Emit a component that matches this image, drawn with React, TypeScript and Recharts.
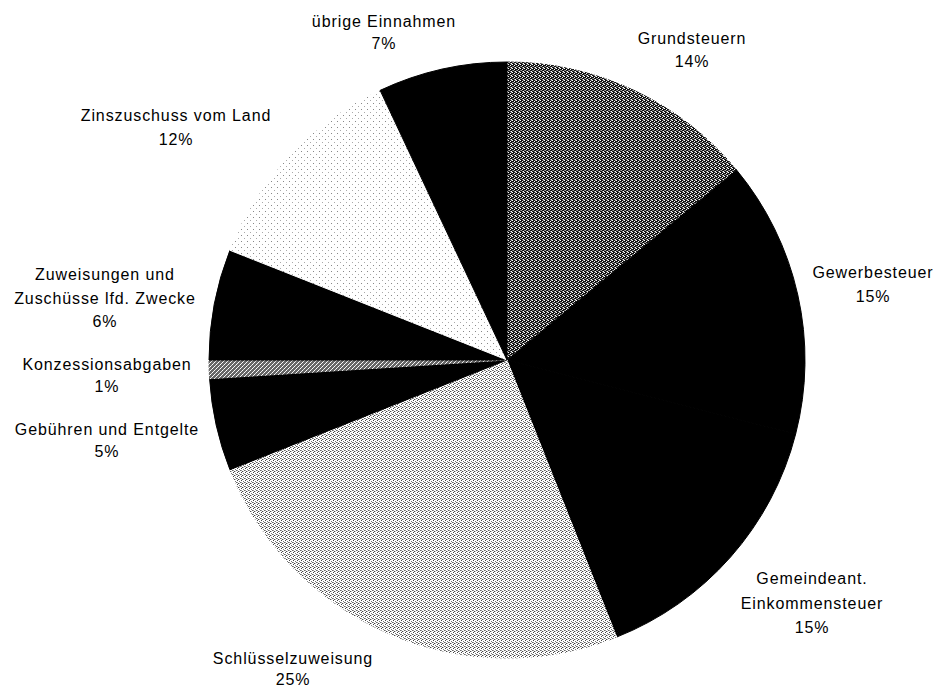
import { PieChart, Pie, Cell } from 'recharts'

// clockwise from 12 o'clock
const categories = [
  'Grundsteuern',
  'Gewerbesteuer',
  'Gemeindeant. Einkommensteuer',
  'Schlüsselzuweisung',
  'Gebühren und Entgelte',
  'Konzessionsabgaben',
  'Zuweisungen und Zuschüsse lfd. Zwecke',
  'Zinszuschuss vom Land',
  'übrige Einnahmen',
]
const shares = [14, 15, 15, 25, 5, 1, 6, 12, 7]
const labelText = [
  ['Grundsteuern'],
  ['Gewerbesteuer'],
  ['Gemeindeant.', 'Einkommensteuer'],
  ['Schlüsselzuweisung'],
  ['Gebühren und Entgelte'],
  ['Konzessionsabgaben'],
  ['Zuweisungen und', 'Zuschüsse lfd. Zwecke'],
  ['Zinszuschuss vom Land'],
  ['übrige Einnahmen'],
]
const fills = ['url(#ditherDark)', '#000', '#000', 'url(#ditherLight)', '#000', 'url(#ditherMid)', '#000', 'url(#ditherPale)', '#000']

// where the old spreadsheet put each label: centre x, first baseline y, line gap
const labelSpots: [number, number, number][] = [
  [692, 44, 23],
  [873, 278, 24],
  [812, 584, 24.5],
  [293, 664, 21],
  [107, 435, 22],
  [107, 370, 22],
  [105, 280, 23.5],
  [176, 121, 24],
  [384, 27, 22],
]

const data = categories.map((name, i) => ({ name, value: shares[i] }))

function renderLabel(props: any) {
  const i = props.index
  const [x, y, gap] = labelSpots[i]
  const lines = [...labelText[i], `${shares[i]}%`]
  return (
    <text key={`lbl-${i}`} x={x} y={y} textAnchor="middle" fill="#000"
      style={{ fontFamily: '"Liberation Sans", Arial, sans-serif', fontSize: 16, letterSpacing: 0.9 }}>
      {lines.map((l, k) => (
        <tspan key={k} x={x} dy={k === 0 ? 0 : gap}>{l}</tspan>
      ))}
    </text>
  )
}

export default function App() {
  return (
    <div style={{ position: 'absolute', left: 0, top: 0, width: 942, height: 687, background: '#fff' }}>
      <PieChart width={942} height={687} margin={{ top: 0, right: 0, bottom: 0, left: 0 }}>
        <defs>
          <pattern id="ditherDark" width={4} height={4} patternUnits="userSpaceOnUse">
            <rect width={4} height={4} fill="#111" />
            <rect x={0} y={0} width={1} height={1} fill="#fff" />
            <rect x={2} y={1} width={1} height={1} fill="#fff" />
            <rect x={1} y={2} width={1} height={1} fill="#aaa" />
            <rect x={3} y={3} width={1} height={1} fill="#fff" />
            <rect x={2} y={3} width={1} height={1} fill="#888" />
            <rect x={0} y={2} width={1} height={1} fill="#777" />
            <rect x={3} y={0} width={1} height={1} fill="#999" />
          </pattern>
          <pattern id="ditherMid" width={4} height={4} patternUnits="userSpaceOnUse">
            <rect width={4} height={4} fill="#666" />
            <rect x={0} y={0} width={1} height={1} fill="#fff" />
            <rect x={2} y={2} width={1} height={1} fill="#fff" />
            <rect x={1} y={3} width={1} height={1} fill="#eee" />
            <rect x={3} y={1} width={1} height={1} fill="#ddd" />
          </pattern>
          <pattern id="ditherLight" width={4} height={4} patternUnits="userSpaceOnUse">
            <rect width={4} height={4} fill="#fff" />
            <rect x={1} y={0} width={1} height={1} fill="#444" />
            <rect x={3} y={1} width={1} height={1} fill="#777" />
            <rect x={0} y={2} width={1} height={1} fill="#666" />
            <rect x={2} y={3} width={1} height={1} fill="#444" />
            <rect x={1} y={2} width={1} height={1} fill="#999" />
            <rect x={3} y={3} width={1} height={1} fill="#bbb" />
          </pattern>
          <pattern id="ditherPale" width={6} height={6} patternUnits="userSpaceOnUse">
            <rect width={6} height={6} fill="#fff" />
            <rect x={1} y={1} width={1} height={1} fill="#888" />
            <rect x={4} y={4} width={1} height={1} fill="#aaa" />
          </pattern>
        </defs>
        <Pie
          data={data}
          dataKey="value"
          nameKey="name"
          cx={507}
          cy={360}
          outerRadius={298}
          startAngle={90}
          endAngle={-270}
          label={renderLabel}
          labelLine={false}
          isAnimationActive={false}
        >
          {data.map((d, i) => (
            <Cell key={d.name} fill={fills[i]} stroke={fills[i]} strokeWidth={1} />
          ))}
        </Pie>
      </PieChart>
    </div>
  )
}
